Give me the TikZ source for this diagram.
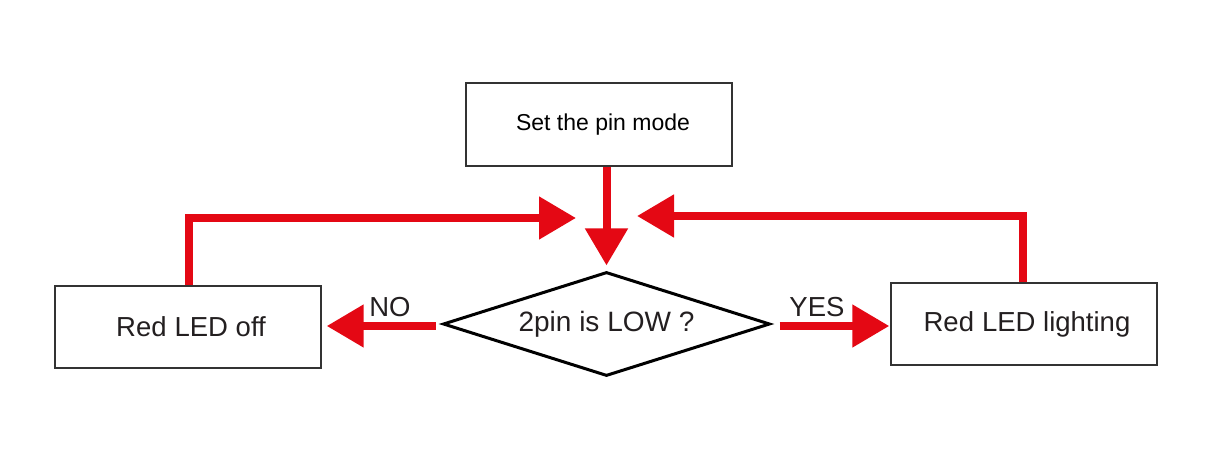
\documentclass[tikz,border=0pt]{standalone}
\usepackage{fontspec}
\setmainfont{Liberation Sans}
\usetikzlibrary{arrows.meta,shapes.geometric}
\definecolor{fred}{RGB}{228,8,20}
\definecolor{ftext}{RGB}{35,31,32}
\tikzset{
  box/.style={draw=black!80, line width=1.4pt, minimum width=266pt, minimum height=82pt, inner sep=0pt, text=ftext, font=\fontsize{27.5}{32}\selectfont},
  decide/.style={diamond, shape aspect=3.14, draw=black, line width=3pt, minimum width=327pt, minimum height=104pt, inner sep=0pt, text=ftext, font=\fontsize{28}{32}\selectfont},
  flow/.style={draw=fred, line width=8pt, -{Triangle[width=41pt,length=37pt]}},
  lbl/.style={text=ftext, font=\fontsize{27.5}{32}\selectfont, inner sep=0pt}
}
\begin{document}
\begin{tikzpicture}[x=1pt,y=-1pt]
\useasboundingbox (0,0) rectangle (1224,465);
\node[box, minimum height=83pt, font=\fontsize{23}{27}\selectfont, text=black] (top) at (599,124.5) {\hspace{8pt}Set the pin mode};
\node[box] (off) at (188,327) {\hspace{6pt}Red\hspace{8pt}LED off};
\node[box] (on) at (1024,324) {\hspace{6pt}Red\hspace{8pt}LED lighting};
\node[decide] (dia) at (606.5,324) {2pin is LOW ?};
\coordinate (jl) at (576,218);
\coordinate (jr) at (637,216);
\coordinate (ol) at (189,218);
\coordinate (or) at (1023,216);
\draw[flow, shorten >=5pt] (top.south -| dia.north) -- (dia.north);
\draw[flow] (off.north -| ol) -- (ol) -- (jl);
\draw[flow] (on.north -| or) -- (or) -- (jr);
\draw[flow, shorten <=6pt, shorten >=5pt] ([yshift=-2pt]dia.west) -- ([yshift=-2pt]dia.west -| off.east);
\draw[flow, shorten <=8pt, shorten >=1pt] ([yshift=-2pt]dia.east) -- ([yshift=-2pt]dia.east -| on.west);
\node[lbl] (no) at (390,307) {NO};
\node[lbl] (yes) at (817,307) {YES};
\end{tikzpicture}
\end{document}
